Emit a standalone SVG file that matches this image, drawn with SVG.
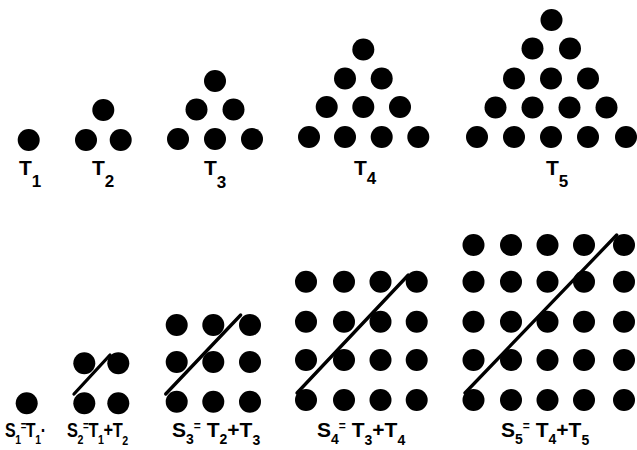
<svg xmlns="http://www.w3.org/2000/svg" width="637" height="450" viewBox="0 0 637 450">
<style>
  circle { fill: #000; }
  .ln { stroke: #000; stroke-width: 3.3; stroke-linecap: round; fill: none; }
  text { font-family: "Liberation Sans", "DejaVu Sans", sans-serif; font-weight: bold; fill: #000; font-size: 21px; }
  .s { font-size: 17px; }
  .b .s { font-size: 14px; }
  .e { font-size: 12px; }
  .n { font-size: 20px; letter-spacing: -0.5px; }
  .n .s { font-size: 13px; }
</style>
<rect width="637" height="450" fill="#fff"/>

<g id="T1">
  <circle cx="28.7" cy="140" r="11"/>
  <text x="19" y="175">T<tspan class="s" dy="12">1</tspan></text>
</g>

<g id="T2">
  <circle cx="103.3" cy="110" r="11"/>
  <circle cx="86" cy="140" r="11"/><circle cx="120.7" cy="140" r="11"/>
  <text x="92" y="175">T<tspan class="s" dy="12">2</tspan></text>
</g>

<g id="T3">
  <circle cx="215" cy="81" r="11"/>
  <circle cx="196.5" cy="109.5" r="11"/><circle cx="233.5" cy="109.5" r="11"/>
  <circle cx="178" cy="139" r="11"/><circle cx="215" cy="139" r="11"/><circle cx="252" cy="139" r="11"/>
  <text x="204" y="175">T<tspan class="s" dy="13">3</tspan></text>
</g>

<g id="T4">
  <circle cx="363.3" cy="49.5" r="11"/>
  <circle cx="345" cy="78.5" r="11"/><circle cx="381.7" cy="78.5" r="11"/>
  <circle cx="326.7" cy="107" r="11"/><circle cx="363.3" cy="107" r="11"/><circle cx="400" cy="107" r="11"/>
  <circle cx="309" cy="137" r="11"/><circle cx="345" cy="137" r="11"/><circle cx="381.7" cy="137" r="11"/><circle cx="418.3" cy="137" r="11"/>
  <text x="354" y="175">T<tspan class="s" dy="9">4</tspan></text>
</g>

<g id="T5">
  <circle cx="551.5" cy="20" r="11"/>
  <circle cx="532.5" cy="48.5" r="11"/><circle cx="570" cy="48.5" r="11"/>
  <circle cx="514" cy="78.5" r="11"/><circle cx="551" cy="78.5" r="11"/><circle cx="588" cy="78.5" r="11"/>
  <circle cx="495.5" cy="107.5" r="11"/><circle cx="532.5" cy="107.5" r="11"/><circle cx="569.5" cy="107.5" r="11"/><circle cx="606.5" cy="107.5" r="11"/>
  <circle cx="477" cy="137" r="11"/><circle cx="514" cy="137" r="11"/><circle cx="551" cy="137" r="11"/><circle cx="588" cy="137" r="11"/><circle cx="626" cy="137" r="11"/>
  <text x="546" y="175">T<tspan class="s" dy="12">5</tspan></text>
</g>

<g id="S1">
  <circle cx="26.7" cy="403.3" r="11"/>
  <text class="n" transform="translate(5,437) scale(0.8,1)">S<tspan class="s" dy="7">1</tspan><tspan class="e" dy="-14">=</tspan><tspan dy="7">T</tspan><tspan class="s" dy="7">1</tspan><tspan dy="-7">·</tspan></text>
</g>

<g id="S2">
  <circle cx="84.3" cy="363.3" r="11"/><circle cx="118.3" cy="363.3" r="11"/>
  <circle cx="84.3" cy="403.3" r="11"/><circle cx="118.3" cy="403.3" r="11"/>
  <line class="ln" x1="74" y1="394" x2="110" y2="355"/>
  <text class="n" transform="translate(67,437) scale(0.82,1)">S<tspan class="s" dy="7">2</tspan><tspan class="e" dy="-14">=</tspan><tspan dy="7">T</tspan><tspan class="s" dy="7">1</tspan><tspan dy="-7">+</tspan>T<tspan class="s" dy="8">2</tspan></text>
</g>

<g id="S3">
  <circle cx="176.7" cy="325" r="11"/><circle cx="213.3" cy="325" r="11"/><circle cx="250" cy="325" r="11"/>
  <circle cx="176.7" cy="362" r="11"/><circle cx="213.3" cy="362" r="11"/><circle cx="250" cy="362" r="11"/>
  <circle cx="176.7" cy="401.7" r="11"/><circle cx="213.3" cy="401.7" r="11"/><circle cx="250" cy="401.7" r="11"/>
  <line class="ln" x1="165.7" y1="394" x2="240.7" y2="315"/>
  <text class="b" x="172" y="437">S<tspan class="s" dy="7">3</tspan><tspan class="e" dy="-14">=</tspan><tspan dy="7"> T</tspan><tspan class="s" dy="7">2</tspan><tspan dy="-7">+</tspan>T<tspan class="s" dy="8">3</tspan></text>
</g>

<g id="S4">
  <circle cx="306" cy="281.7" r="11"/><circle cx="344" cy="281.7" r="11"/><circle cx="380.5" cy="281.7" r="11"/><circle cx="416.7" cy="281.7" r="11"/>
  <circle cx="306" cy="321.7" r="11"/><circle cx="344" cy="321.7" r="11"/><circle cx="380.5" cy="321.7" r="11"/><circle cx="416.7" cy="321.7" r="11"/>
  <circle cx="306" cy="360" r="11"/><circle cx="344" cy="360" r="11"/><circle cx="380.5" cy="360" r="11"/><circle cx="416.7" cy="360" r="11"/>
  <circle cx="306" cy="400" r="11"/><circle cx="344" cy="400" r="11"/><circle cx="380.5" cy="400" r="11"/><circle cx="416.7" cy="400" r="11"/>
  <line class="ln" x1="297" y1="393" x2="408.3" y2="275"/>
  <text class="b" x="317" y="437">S<tspan class="s" dy="7">4</tspan><tspan class="e" dy="-14">=</tspan><tspan dy="7"> T</tspan><tspan class="s" dy="8">3</tspan><tspan dy="-8">+</tspan>T<tspan class="s" dy="8">4</tspan></text>
</g>

<g id="S5">
  <circle cx="473.5" cy="245" r="11"/><circle cx="511" cy="245" r="11"/><circle cx="547.5" cy="245" r="11"/><circle cx="584" cy="245" r="11"/><circle cx="624" cy="245" r="11"/>
  <circle cx="473.5" cy="281.7" r="11"/><circle cx="511" cy="281.7" r="11"/><circle cx="547.5" cy="281.7" r="11"/><circle cx="584" cy="281.7" r="11"/><circle cx="624" cy="281.7" r="11"/>
  <circle cx="473.5" cy="321.7" r="11"/><circle cx="511" cy="321.7" r="11"/><circle cx="547.5" cy="321.7" r="11"/><circle cx="584" cy="321.7" r="11"/><circle cx="624" cy="321.7" r="11"/>
  <circle cx="473.5" cy="360" r="11"/><circle cx="511" cy="360" r="11"/><circle cx="547.5" cy="360" r="11"/><circle cx="584" cy="360" r="11"/><circle cx="624" cy="360" r="11"/>
  <circle cx="473.5" cy="400" r="11"/><circle cx="511" cy="400" r="11"/><circle cx="547.5" cy="400" r="11"/><circle cx="584" cy="400" r="11"/><circle cx="624" cy="400" r="11"/>
  <line class="ln" x1="465" y1="393" x2="616.7" y2="235"/>
  <text class="b" x="501" y="437">S<tspan class="s" dy="7">5</tspan><tspan class="e" dy="-14">=</tspan><tspan dy="7"> T</tspan><tspan class="s" dy="7">4</tspan><tspan dy="-7">+</tspan>T<tspan class="s" dy="8">5</tspan></text>
</g>
</svg>
